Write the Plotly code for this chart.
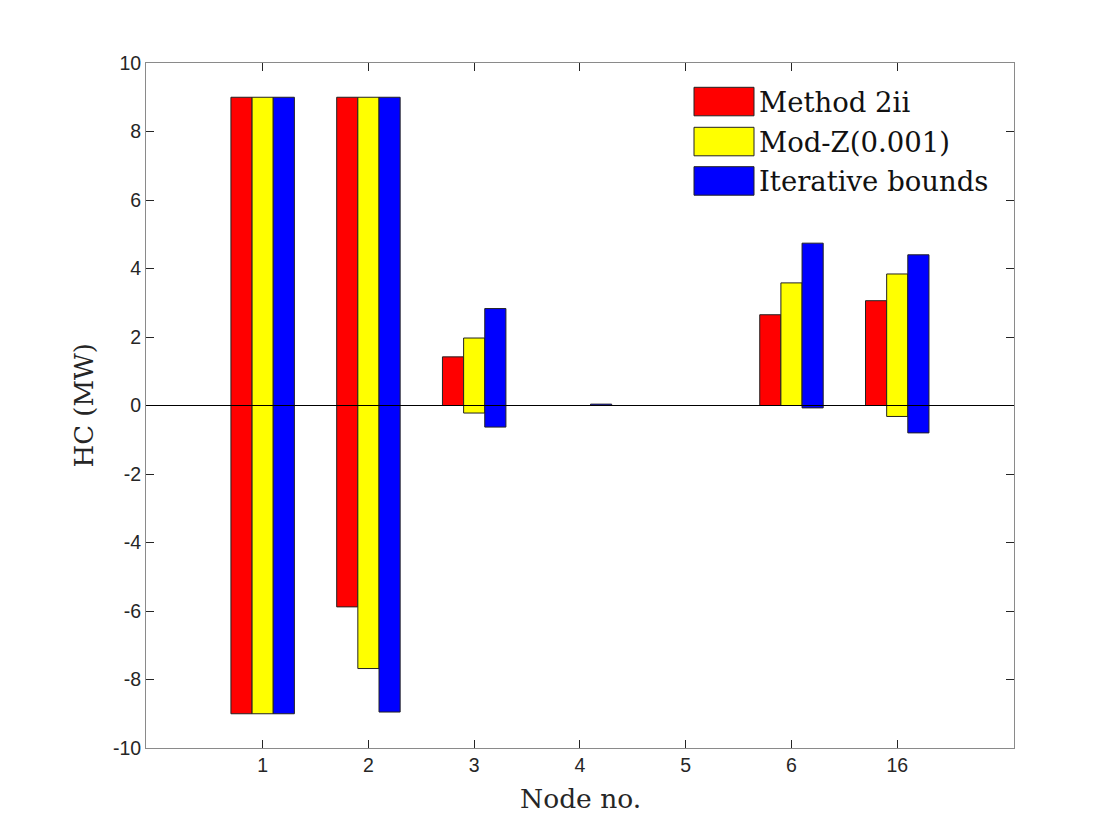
import plotly.graph_objects as go

nodes = ["1", "2", "3", "4", "5", "6", "16"]
series_names = ["Method 2ii", "Mod-Z(0.001)", "Iterative bounds"]
method2ii_upper = [9.0, 9.0, 1.42, 0.0, 0.0, 2.65, 3.06]
method2ii_lower = [-9.0, -5.88, 0.0, 0.0, 0.0, 0.0, 0.0]
modz_upper = [9.0, 9.0, 1.97, 0.0, 0.0, 3.58, 3.84]
modz_lower = [-9.0, -7.68, -0.22, 0.0, 0.0, 0.0, -0.32]
iter_upper = [9.0, 9.0, 2.83, 0.04, 0.0, 4.74, 4.40]
iter_lower = [-9.0, -8.95, -0.63, 0.0, 0.0, -0.07, -0.80]
y_ticks = [-10, -8, -6, -4, -2, 0, 2, 4, 6, 8, 10]
y_tick_labels = ["-10", "-8", "-6", "-4", "-2", "0", "2", "4", "6", "8", "10"]

colors = ["#ff0000", "#ffff00", "#0000ff"]
uppers = [method2ii_upper, modz_upper, iter_upper]
lowers = [method2ii_lower, modz_lower, iter_lower]
offsets = [-0.3, -0.1, 0.1]

xpos = list(range(1, len(nodes) + 1))

fig = go.Figure()
for name, col, up, lo, off in zip(series_names, colors, uppers, lowers, offsets):
    fig.add_trace(go.Bar(
        x=xpos,
        y=[u - l for u, l in zip(up, lo)],
        base=lo,
        name=name,
        width=0.2,
        offset=off,
        marker=dict(color=col, line=dict(color="#222222", width=1)),
        showlegend=False,
    ))

# zero line
fig.add_shape(type="line", xref="paper", yref="y", x0=0, x1=1, y0=0, y1=0,
              line=dict(color="black", width=1), layer="above")

# page offset (browser body margin)
OFF = 8
FW, FH = 1120 - 2 * OFF, 840 - 2 * OFF
# plot area in screenshot pixels
L, R, T, B = 146, 1014, 63, 748
W, H = R - L, B - T
def px(x):
    return (x - L) / W
def py(y):
    return (B - y) / H

sw_tops = [87.3, 127.3, 166.7]
for name, col, top in zip(series_names, colors, sw_tops):
    fig.add_shape(type="rect", xref="paper", yref="paper",
                  x0=px(694), x1=px(754), y0=py(top + 28.5), y1=py(top),
                  fillcolor=col, line=dict(color="#222222", width=1))
    fig.add_annotation(xref="paper", yref="paper", x=px(757), y=py(top + 14.5),
                       text=name, showarrow=False, xanchor="left", yanchor="middle",
                       font=dict(family="DejaVu Serif", size=27.5, color="#111111"))

# axis titles
fig.add_annotation(xref="paper", yref="paper", x=px(580), y=py(781),
                   text="Node no.", showarrow=False, xanchor="center", yanchor="top",
                   font=dict(family="DejaVu Serif", size=26.5, color="#262626"))
fig.add_annotation(xref="paper", yref="paper", x=px(83), y=0.5,
                   text="HC (MW)", showarrow=False, xanchor="center", yanchor="middle",
                   textangle=-90,
                   font=dict(family="DejaVu Serif", size=26, color="#262626"))

axis_common = dict(showline=True, linecolor="#8a8a8a", linewidth=1, mirror="ticks",
                   ticks="inside", ticklen=8, tickcolor="#262626", showgrid=False,
                   zeroline=False,
                   tickfont=dict(family="Liberation Sans", size=19.5, color="#262626"))

fig.update_layout(
    width=FW, height=FH,
    margin=dict(l=L - OFF, r=FW - (R - OFF), t=T - OFF, b=FH - (B - OFF)),
    paper_bgcolor="white", plot_bgcolor="white",
    barmode="overlay",
    xaxis=dict(range=[-0.103, 8.104], tickmode="array", tickvals=xpos, ticktext=nodes,
               **axis_common),
    yaxis=dict(range=[-10, 10], tickmode="array", tickvals=y_ticks, ticktext=y_tick_labels,
               **axis_common),
)

fig.write_html("out.html")
